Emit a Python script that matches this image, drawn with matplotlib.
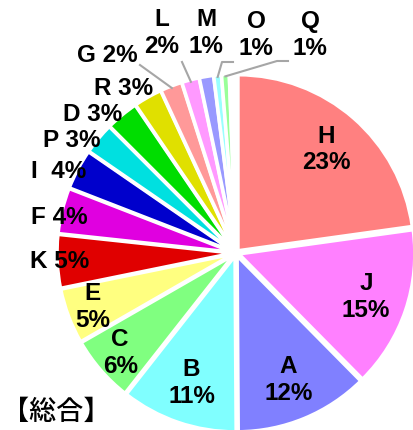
import matplotlib
matplotlib.use("Agg")
import matplotlib.pyplot as plt
import numpy as np

# shares (%) clockwise from 12 o'clock; the last unnamed wedge is an empty gap in the source
names = ["H", "J", "A", "B", "C", "E", "K", "F", "I", "P", "D", "R", "G", "L", "M", "O", "Q", ""]
shares = [22.8, 14.8, 12.3, 10.7, 6.1, 5.1, 4.9, 4.2, 3.7, 2.9, 3.0, 2.6, 2.0, 1.6, 1.3, 0.7, 0.7, 0.6]
colors = ["#FF8080", "#FF80FF", "#8080FF", "#80FFFF", "#80FF80", "#FFFF80", "#E00000",
          "#E000E0", "#0000CC", "#00E0E0", "#00DD00", "#E0E000", "#FF9999", "#FF99FF",
          "#9999FF", "#99FFFF", "#99FF99", "#FFFFFF"]
title = "【総合】"

W, H = 414, 430
cx, cy, R = 236, H - 253, 176

# layout: inside labels (radius fraction) and outside labels (pixel centres)
inside = {"H": 0.78, "J": 0.78, "A": 0.78, "B": 0.78, "C": 0.87, "E": 0.87}
outside = {"K": (60, 261), "F": (59, 217), "I": (59, 171), "P": (72, 140),
           "D": (93, 114), "R": (124, 88), "G": (107, 55),
           "L": (162, 33), "M": (206, 33), "O": (256, 35), "Q": (310, 35)}
two_line = {"L", "M", "O", "Q"}
leaders = {"G": [(140, 65)], "L": [(182, 62)],
           "O": [(233, 62), (222, 62)], "Q": [(288, 61), (277, 61)]}

fig = plt.figure(figsize=(W / 100, H / 100), dpi=100)
ax = fig.add_axes([0, 0, 1, 1])

wedges, _ = ax.pie(shares, colors=colors, startangle=90, counterclock=False,
                   center=(cx, cy), radius=R, explode=[3] * len(shares),
                   wedgeprops=dict(edgecolor="white", linewidth=2.5))
ax.set_xlim(0, W)
ax.set_ylim(0, H)
ax.set_aspect("equal")
ax.axis("off")

font = dict(family=["Liberation Sans", "DejaVu Sans"], fontweight="bold", fontsize=17.5,
            color="black", ha="center", va="center")

for w, name, v in zip(wedges, names, shares):
    if not name:
        continue
    mid = np.deg2rad((w.theta1 + w.theta2) / 2)
    pct = f"{v:.0f}%"
    if name in inside:
        r = inside[name] * R
        ax.text(cx + r * np.cos(mid), cy + r * np.sin(mid), f"{name}\n{pct}",
                linespacing=1.2, **font)
    else:
        x, y = outside[name]
        sep = "\n" if name in two_line else ("  " if name == "I" else " ")
        ax.text(x, H - y, f"{name}{sep}{pct}", linespacing=1.2, **font)
        if name in leaders:
            pts = [(px, H - py) for px, py in leaders[name]]
            pts.append((cx + (R + 1) * np.cos(mid), cy + (R + 1) * np.sin(mid)))
            xs, ys = zip(*pts)
            ax.plot(xs, ys, color="#A6A6A6", lw=1.5)

ax.text(2, H - 412, title, family=["Noto Sans CJK JP", "DejaVu Sans"], fontsize=19.5,
        fontweight="medium", ha="left", va="center", color="black")

fig.savefig("out.png", dpi=100)
